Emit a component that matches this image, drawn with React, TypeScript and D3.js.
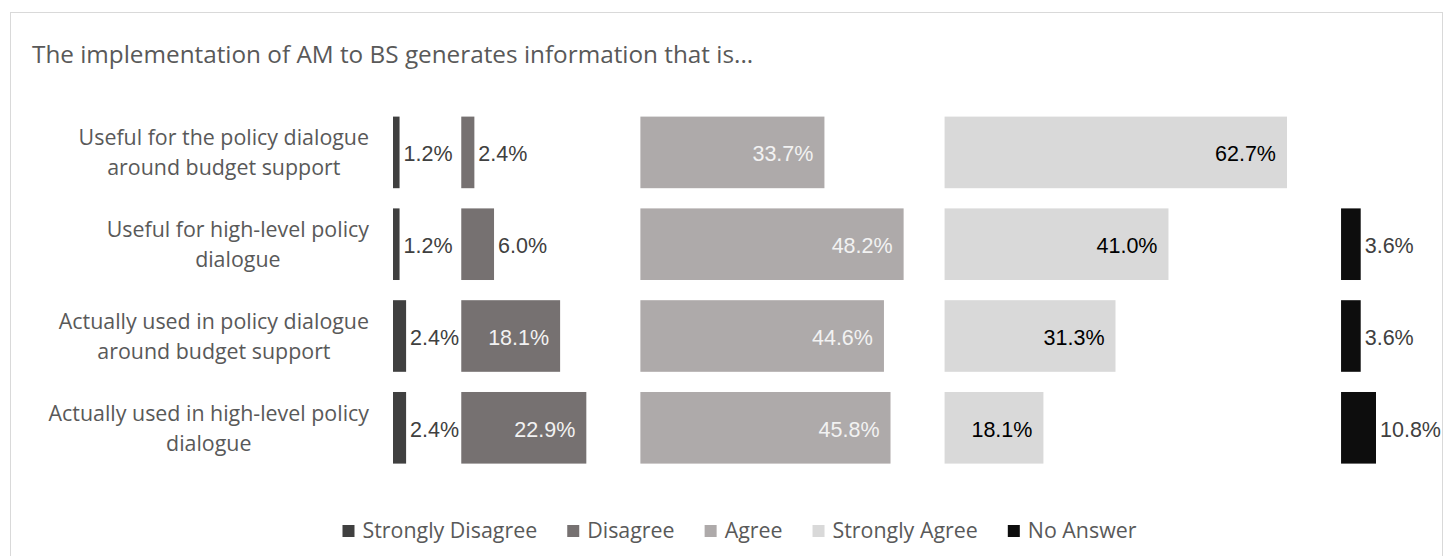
import React from "react";
import * as d3 from "d3";

// ---------- data ----------
const TITLE = "The implementation of AM to BS generates information that is...";
const categoryLines: string[][] = [
  ["Useful for the policy dialogue", "around budget support"],
  ["Useful for high-level policy", "dialogue"],
  ["Actually used in policy dialogue", "around budget support"],
  ["Actually used in high-level policy", "dialogue"],
];
const seriesNames = ["Strongly Disagree", "Disagree", "Agree", "Strongly Agree", "No Answer"];
const stronglyDisagree: (number | null)[] = [1.2, 1.2, 2.4, 2.4];
const disagree: (number | null)[] = [2.4, 6.0, 18.1, 22.9];
const agree: (number | null)[] = [33.7, 48.2, 44.6, 45.8];
const stronglyAgree: (number | null)[] = [62.7, 41.0, 31.3, 18.1];
const noAnswer: (number | null)[] = [null, 3.6, 3.6, 10.8];
const seriesValues = [stronglyDisagree, disagree, agree, stronglyAgree, noAnswer];

// ---------- layout / style ----------
const colors = ["#404040", "#767171", "#AEAAAA", "#D9D9D9", "#0D0D0D"];
const insideLabelColors = ["#F2F2F2", "#F2F2F2", "#F2F2F2", "#000000", "#F2F2F2"];
const outsideLabelColor = "#404040";
const columnOffsets = [0, 12.5, 45.3, 101, 173.6]; // panel start of each series (percent units on the axis)
const AXIS_MAX = 180;

const W = 1453;
const H = 556;
const TEXT_COLOR = "#595959";
const TEXT_FAMILY = "'Open Sans', sans-serif";
const LABEL_FAMILY = "'Liberation Sans', Arial, sans-serif";
const CAT_SIZE = 21.4;
const TITLE_SIZE = 24.3;
const LEGEND_SIZE = 21.4;
const LABEL_SIZE = 21.5;

let ctx: CanvasRenderingContext2D | null = null;
function measure(text: string, size: number, family: string): number {
  if (!ctx) ctx = document.createElement("canvas").getContext("2d");
  if (!ctx) return text.length * size * 0.5;
  ctx.font = `${size}px ${family}`;
  return ctx.measureText(text).width;
}

export default function App() {
  const x = d3.scaleLinear().domain([0, AXIS_MAX]).range([393, 1376]);
  const y = d3
    .scaleBand<number>()
    .domain(d3.range(categoryLines.length))
    .range([106.5, 473.7])
    .paddingInner(0.22)
    .paddingOuter(0.11);
  const bw = y.bandwidth();
  const fmt = (v: number) => `${v.toFixed(1)}%`;

  // legend layout
  const sq = 12;
  const legendItems = seriesNames.map((n) => ({ n, w: measure(n, LEGEND_SIZE, TEXT_FAMILY) }));
  const totalLegend = d3.sum(legendItems, (d) => 20 + d.w) + 30 * (legendItems.length - 1);
  let lx = 739.5 - totalLegend / 2;
  const legendPos = legendItems.map((d) => {
    const p = lx;
    lx += 20 + d.w + 30;
    return p;
  });
  const legendBaseline = 538;

  return (
    <svg
      width={W}
      height={H}
      style={{ position: "absolute", left: 0, top: 0, background: "#fff" }}
    >
      <rect x={10.5} y={12.5} width={1432} height={560} fill="#fff" stroke="#D9D9D9" strokeWidth={1} />
      <text x={32} y={63} fontFamily={TEXT_FAMILY} fontSize={TITLE_SIZE} fill={TEXT_COLOR}>
        {TITLE}
      </text>

      {/* category labels */}
      {categoryLines.map((lines, i) => {
        const cy = (y(i) as number) + bw / 2;
        const maxW = d3.max(lines, (l) => measure(l, CAT_SIZE, TEXT_FAMILY)) as number;
        const cx = 369 - maxW / 2;
        return (
          <text key={i} fontFamily={TEXT_FAMILY} fontSize={CAT_SIZE} fill={TEXT_COLOR} textAnchor="middle">
            {lines.map((l, k) => (
              <tspan key={k} x={cx} y={cy + (k - (lines.length - 1) / 2) * 30 + 8}>
                {l}
              </tspan>
            ))}
          </text>
        );
      })}

      {/* bars + labels */}
      {seriesValues.map((vals, s) => (
        <g key={s}>
          {vals.map((v, i) => {
            if (v === null || v === undefined) return null;
            const x0 = x(columnOffsets[s]);
            const x1 = x(Math.min(columnOffsets[s] + v, AXIS_MAX));
            const yy = y(i) as number;
            const label = fmt(v);
            const lw = measure(label, LABEL_SIZE, LABEL_FAMILY);
            const inside = x1 - x0 >= lw + 20;
            return (
              <g key={i}>
                <rect x={x0} y={yy} width={x1 - x0} height={bw} fill={colors[s]} />
                <text
                  x={inside ? x1 - 11 : x1 + 4}
                  y={yy + bw / 2 + 9}
                  textAnchor={inside ? "end" : "start"}
                  fontFamily={LABEL_FAMILY}
                  fontSize={LABEL_SIZE}
                  fill={inside ? insideLabelColors[s] : outsideLabelColor}
                >
                  {label}
                </text>
              </g>
            );
          })}
        </g>
      ))}

      {/* legend */}
      {legendItems.map((d, i) => (
        <g key={d.n}>
          <rect x={legendPos[i]} y={legendBaseline - 13} width={sq} height={sq} fill={colors[i]} />
          <text
            x={legendPos[i] + 20}
            y={legendBaseline}
            fontFamily={TEXT_FAMILY}
            fontSize={LEGEND_SIZE}
            fill={TEXT_COLOR}
          >
            {d.n}
          </text>
        </g>
      ))}
    </svg>
  );
}
